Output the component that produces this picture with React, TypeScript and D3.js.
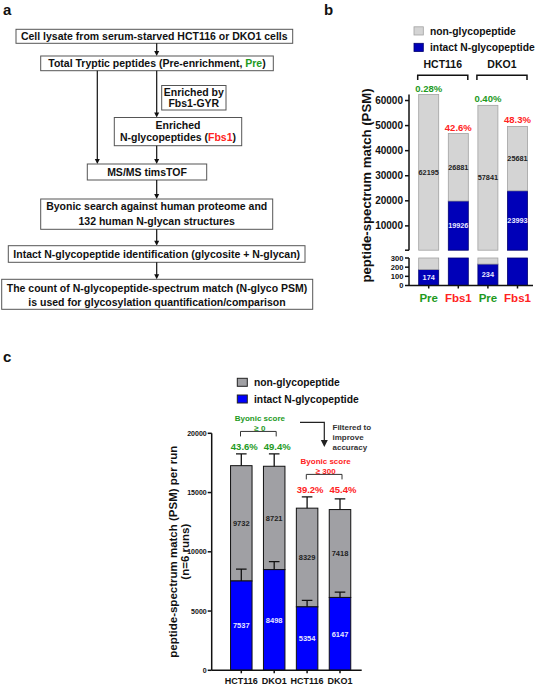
import React from 'react';
import * as d3 from 'd3';

const FONT = '"Liberation Sans", Arial, Helvetica, sans-serif';
const GREEN = '#1e9a1e';
const RED = '#ff2222';

// ---------- Panel b data ----------
const bCategories = ['Pre', 'Fbs1', 'Pre', 'Fbs1'];
const bCategoryColors = [GREEN, RED, GREEN, RED];
const bGroups = ['HCT116', 'DKO1'];
const bIntact = [174, 19926, 234, 23993];
const bNon = [62195, 26881, 57841, 25681];
const bPctLabels = ['0.28%', '42.6%', '0.40%', '48.3%'];
const bUpperTicks = [10000, 20000, 30000, 40000, 50000, 60000];
const bLowerTicks = [0, 100, 200, 300];
const bBreak = 300;

// ---------- Panel c data ----------
const cCategories = ['HCT116', 'DKO1', 'HCT116', 'DKO1'];
const cIntact = [7537, 8498, 5354, 6147];
const cNon = [9732, 8721, 8329, 7418];
const cIntactErr = [1000, 670, 550, 450];
const cTotalErr = [990, 1040, 950, 900];
const cPctLabels = ['43.6%', '49.4%', '39.2%', '45.4%'];
const cTicks = [0, 5000, 10000, 15000, 20000];
const cScoreLabels = ['Byonic score', 'Byonic score'];
const cScoreThresholds = ['≥ 0', '≥ 300'];
const cScoreColors = [GREEN, RED];
const cFilterNote = ['Filtered to', 'improve', 'accuracy'];

const legendLabels = ['non-glycopeptide', 'intact N-glycopeptide'];

// ---------- Panel a text ----------
const flowLysate = 'Cell lysate from serum-starved HCT116 or DKO1 cells';
const flowTotal = ['Total Tryptic peptides (Pre-enrichment, ', 'Pre', ')'];
const flowEnrichedBy = ['Enriched by', 'Fbs1-GYR'];
const flowEnriched = ['Enriched', 'N-glycopeptides (', 'Fbs1', ')'];
const flowMS = 'MS/MS timsTOF';
const flowByonic = ['Byonic search against human proteome and', '132 human N-glycan structures'];
const flowIntact = 'Intact N-glycopeptide identification (glycosite + N-glycan)';
const flowCount = [
  'The count of N-glycopeptide-spectrum match (N-glyco PSM)',
  'is used for glycosylation quantification/comparison',
];

const BOX_STROKE = '#555';

function Box({ x, y, w, h }: { x: number; y: number; w: number; h: number }) {
  return <rect x={x} y={y} width={w} height={h} fill="#fff" stroke={BOX_STROKE} strokeWidth={1} />;
}

function Arrow({ x, y1, y2 }: { x: number; y1: number; y2: number }) {
  return (
    <g>
      <line x1={x} x2={x} y1={y1} y2={y2 - 4} stroke="#111" strokeWidth={1.2} />
      <path d={`M${x - 2.5},${y2 - 5}L${x + 2.5},${y2 - 5}L${x},${y2}Z`} fill="#111" />
    </g>
  );
}

function PanelA() {
  const fs = 10.5;
  const ax = 156.7;
  return (
    <g fontSize={fs} fill="#111">
      <Box x={16} y={29.3} w={276.7} h={14} />
      <text x={154.3} y={36.3} dy="0.36em" textAnchor="middle">{flowLysate}</text>
      <Arrow x={ax} y1={43.3} y2={56} />

      <Box x={40.7} y={56} w={232.6} h={14.7} />
      <text x={157} y={63.3} dy="0.36em" textAnchor="middle">
        {flowTotal[0]}
        <tspan fill={GREEN}>{flowTotal[1]}</tspan>
        {flowTotal[2]}
      </text>

      <line x1={97.3} x2={97.3} y1={70.7} y2={160} stroke="#111" strokeWidth={1.2} />
      <path d={`M${97.3 - 2.5},159L${97.3 + 2.5},159L97.3,164Z`} fill="#111" />
      <Arrow x={ax} y1={70.7} y2={117.5} />

      <Box x={161.7} y={85.5} w={64.3} h={24.5} />
      <text x={193.8} y={91.8} dy="0.36em" textAnchor="middle">{flowEnrichedBy[0]}</text>
      <text x={193.8} y={103.3} dy="0.36em" textAnchor="middle">{flowEnrichedBy[1]}</text>

      <Box x={114.3} y={117.5} w={127.4} h={28.2} />
      <text x={178} y={125.5} dy="0.36em" textAnchor="middle">{flowEnriched[0]}</text>
      <text x={178} y={137} dy="0.36em" textAnchor="middle">
        {flowEnriched[1]}
        <tspan fill={RED}>{flowEnriched[2]}</tspan>
        {flowEnriched[3]}
      </text>
      <Arrow x={ax} y1={145.7} y2={164} />

      <Box x={87.3} y={164} w={119.4} h={16} />
      <text x={147} y={172} dy="0.36em" textAnchor="middle">{flowMS}</text>
      <Arrow x={ax} y1={180} y2={199} />

      <Box x={40.7} y={199} w={232} h={30.3} />
      <text x={156.7} y={206.5} dy="0.36em" textAnchor="middle">{flowByonic[0]}</text>
      <text x={156.7} y={221.3} dy="0.36em" textAnchor="middle">{flowByonic[1]}</text>
      <Arrow x={ax} y1={229.3} y2={245.7} />

      <Box x={8.3} y={245.7} w={296.7} h={16.6} />
      <text x={156.7} y={254} dy="0.36em" textAnchor="middle">{flowIntact}</text>
      <Arrow x={ax} y1={262.3} y2={279.3} />

      <Box x={1.7} y={279.3} w={311} h={30} />
      <text x={157} y={288.3} dy="0.36em" textAnchor="middle">{flowCount[0]}</text>
      <text x={157} y={302.3} dy="0.36em" textAnchor="middle">{flowCount[1]}</text>
    </g>
  );
}

function PanelB() {
  const n = bCategories.length;
  const totals = bIntact.map((v, i) => v + bNon[i]);
  const maxTotal = d3.max(totals) as number;
  const x = d3.scalePoint<number>().domain(d3.range(n)).range([428.7, 517.5]);
  const yUp = d3.scaleLinear().domain([bBreak, 62400]).range([250.2, 94.5]);
  const yLo = d3.scaleLinear().domain([0, bBreak]).range([285.5, 258]);
  const bw = 20;
  const axisX = 409;
  const grey = '#d4d4d4';
  const greyStroke = '#a2a2a2';
  const blue = '#0000b8';
  const blueStroke = '#00006e';

  const segs: JSX.Element[] = [];
  const labels: JSX.Element[] = [];
  d3.range(n).forEach((i) => {
    const cx = x(i) as number;
    const parts = [
      { lo: 0, hi: bIntact[i], fill: blue, stroke: blueStroke, val: bIntact[i], tc: '#e8e8ff' },
      { lo: bIntact[i], hi: totals[i], fill: grey, stroke: greyStroke, val: bNon[i], tc: '#222' },
    ];
    parts.forEach((p, k) => {
      const l0 = Math.min(p.lo, bBreak);
      const l1 = Math.min(p.hi, bBreak);
      if (l1 > l0) {
        segs.push(
          <rect key={`l${i}${k}`} x={cx - bw / 2} width={bw} y={yLo(l1)} height={yLo(l0) - yLo(l1)}
            fill={p.fill} stroke={p.stroke} strokeWidth={0.8} />
        );
      }
      const u0 = Math.max(p.lo, bBreak);
      const u1 = Math.max(p.hi, bBreak);
      if (u1 > u0) {
        segs.push(
          <rect key={`u${i}${k}`} x={cx - bw / 2} width={bw} y={yUp(u1)} height={yUp(u0) - yUp(u1)}
            fill={p.fill} stroke={p.stroke} strokeWidth={0.8} />
        );
      }
      let cy: number;
      if (p.hi <= bBreak) cy = (yLo(p.lo) + yLo(p.hi)) / 2;
      else cy = (yUp(Math.max(p.lo, bBreak)) + yUp(p.hi)) / 2;
      labels.push(
        <text key={`t${i}${k}`} x={cx} y={cy} dy="0.36em" textAnchor="middle" fontSize={7.3} fill={p.tc}>
          {p.val}
        </text>
      );
    });
    labels.push(
      <text key={`p${i}`} x={cx} y={yUp(totals[i]) - 3} textAnchor="middle" fontSize={9.5}
        fill={bCategoryColors[i]}>{bPctLabels[i]}</text>
    );
  });

  return (
    <g fill="#111">
      {/* legend */}
      <rect x={414} y={26.8} width={9.3} height={8.2} fill={grey} stroke={greyStroke} strokeWidth={0.8} />
      <text x={430} y={31} dy="0.36em" fontSize={10.3}>{legendLabels[0]}</text>
      <rect x={414} y={43.3} width={9.3} height={8.2} fill={blue} stroke={blueStroke} strokeWidth={0.8} />
      <text x={430} y={47.3} dy="0.36em" fontSize={10.3}>{legendLabels[1]}</text>

      {/* group brackets */}
      {bGroups.map((g, gi) => {
        const x0 = (x(gi * 2) as number) - 11;
        const x1 = (x(gi * 2 + 1) as number) + 9.5;
        return (
          <g key={g}>
            <text x={(x0 + x1) / 2} y={64.3} dy="0.36em" textAnchor="middle" fontSize={10.5}>{g}</text>
            <path d={`M${x0},80V75.3H${x1}V80`} fill="none" stroke="#111" strokeWidth={1.5} />
          </g>
        );
      })}

      {segs}
      {labels}

      {/* y axis upper */}
      <line x1={axisX} x2={axisX} y1={yUp(maxTotal)} y2={yUp(bBreak)} stroke="#111" strokeWidth={1.5} />
      {[bBreak, ...bUpperTicks].map((t) => (
        <g key={`ut${t}`}>
          <line x1={axisX - 4} x2={axisX} y1={yUp(t)} y2={yUp(t)} stroke="#111" strokeWidth={1.5} />
          {t !== bBreak && (
            <text x={axisX - 6} y={yUp(t)} dy="0.36em" textAnchor="end" fontSize={10}>{t}</text>
          )}
        </g>
      ))}
      {/* y axis lower */}
      <line x1={axisX} x2={axisX} y1={yLo(bBreak)} y2={yLo(0)} stroke="#111" strokeWidth={1.5} />
      {bLowerTicks.map((t) => (
        <g key={`lt${t}`}>
          <line x1={axisX - 4} x2={axisX} y1={yLo(t)} y2={yLo(t)} stroke="#111" strokeWidth={1.5} />
          <text x={axisX - 5.5} y={yLo(t)} dy="0.36em" textAnchor="end" fontSize={7.6}>{t}</text>
        </g>
      ))}
      {/* x axis */}
      <line x1={axisX} x2={533} y1={yLo(0)} y2={yLo(0)} stroke="#111" strokeWidth={1.5} />
      {d3.range(n).map((i) => (
        <g key={`xc${i}`}>
          <line x1={x(i)} x2={x(i)} y1={yLo(0)} y2={yLo(0) + 3} stroke="#111" strokeWidth={1.5} />
          <text x={x(i)} y={298.3} dy="0.36em" textAnchor="middle" fontSize={11.5}
            fill={bCategoryColors[i]}>{bCategories[i]}</text>
        </g>
      ))}
      <text transform="translate(366.3,185.5) rotate(-90)" dy="0.36em" textAnchor="middle" fontSize={13.2}>
        peptide-spectrum match (PSM)
      </text>
    </g>
  );
}

function PanelC() {
  const n = cCategories.length;
  const totals = cIntact.map((v, i) => v + cNon[i]);
  const x = d3.scalePoint<number>().domain(d3.range(n)).range([241.3, 340]);
  const y = d3.scaleLinear().domain([0, 20000]).range([670.3, 433.3]);
  const bw = 21.5;
  const axisX = 211.7;
  const grey = '#a0a0a4';
  const blue = '#0000ff';
  const cap = 5.3;

  return (
    <g fill="#111">
      {/* legend */}
      <rect x={237.3} y={378.3} width={10} height={8} fill={grey} stroke="#222" strokeWidth={1} />
      <text x={254} y={382.5} dy="0.36em" fontSize={10.3}>{legendLabels[0]}</text>
      <rect x={237.3} y={395} width={10} height={8} fill={blue} stroke="#222" strokeWidth={1} />
      <text x={254} y={399} dy="0.36em" fontSize={10.3}>{legendLabels[1]}</text>

      {d3.range(n).map((i) => {
        const cx = x(i) as number;
        return (
          <g key={`bar${i}`}>
            <rect x={cx - bw / 2} width={bw} y={y(totals[i])} height={y(cIntact[i]) - y(totals[i])}
              fill={grey} stroke="#111" strokeWidth={1} />
            <rect x={cx - bw / 2} width={bw} y={y(cIntact[i])} height={y(0) - y(cIntact[i])}
              fill={blue} stroke="#111" strokeWidth={1} />
            <path d={`M${cx},${y(cIntact[i])}V${y(cIntact[i] + cIntactErr[i])}M${cx - cap},${y(cIntact[i] + cIntactErr[i])}H${cx + cap}`}
              stroke="#111" strokeWidth={1.3} fill="none" />
            <path d={`M${cx},${y(totals[i])}V${y(totals[i] + cTotalErr[i])}M${cx - cap},${y(totals[i] + cTotalErr[i])}H${cx + cap}`}
              stroke="#111" strokeWidth={1.3} fill="none" />
            <text x={cx} y={(y(cIntact[i]) + y(totals[i])) / 2} dy="0.36em" textAnchor="middle" fontSize={7.5} fill="#222">
              {cNon[i]}
            </text>
            <text x={cx} y={(y(0) + y(cIntact[i])) / 2} dy="0.36em" textAnchor="middle" fontSize={7.5} fill="#e6e6ff">
              {cIntact[i]}
            </text>
          </g>
        );
      })}

      {/* group annotations */}
      {[0, 1].map((g) => {
        const a = g * 2;
        const b = g * 2 + 1;
        const top = y(Math.max(totals[a] + cTotalErr[a], totals[b] + cTotalErr[b]));
        const x0 = (x(a) as number) - 0.8;
        const x1 = (x(b) as number) + 2;
        const col = cScoreColors[g];
        return (
          <g key={`grp${g}`} fill={col}>
            <text x={(x0 + x1) / 2 + 1.5} y={top - 36} dy="0.36em" textAnchor="middle" fontSize={8}>{cScoreLabels[g]}</text>
            <text x={(x0 + x1) / 2 + 1.5} y={top - 26} dy="0.36em" textAnchor="middle" fontSize={8}>{cScoreThresholds[g]}</text>
            <path d={`M${x0},${top - 17.5}V${top - 22.5}H${x1}V${top - 17.5}`} fill="none" stroke="#333" strokeWidth={1} />
            <text x={(x(a) as number) + 3} y={top - 7.5} dy="0.36em" textAnchor="middle" fontSize={9.5}>{cPctLabels[a]}</text>
            <text x={(x(b) as number) + 3} y={top - 7.5} dy="0.36em" textAnchor="middle" fontSize={9.5}>{cPctLabels[b]}</text>
          </g>
        );
      })}

      {/* filter arrow */}
      <path d="M300,422.3H324.3V441" fill="none" stroke="#222" strokeWidth={1.2} />
      <path d="M320.8,440L327.8,440L324.3,447Z" fill="#222" />
      {cFilterNote.map((t, k) => (
        <text key={t} x={332.5} y={426.7 + k * 10} dy="0.36em" fontSize={8} fill="#333">{t}</text>
      ))}

      {/* axes */}
      <line x1={axisX} x2={axisX} y1={y(20000)} y2={y(0)} stroke="#111" strokeWidth={1.5} />
      {cTicks.map((t) => (
        <g key={`ct${t}`}>
          <line x1={axisX - 4} x2={axisX} y1={y(t)} y2={y(t)} stroke="#111" strokeWidth={1.5} />
          <text x={axisX - 5} y={y(t)} dy="0.36em" textAnchor="end" fontSize={7}>{t}</text>
        </g>
      ))}
      <line x1={axisX} x2={361.7} y1={y(0)} y2={y(0)} stroke="#111" strokeWidth={1.5} />
      {d3.range(n).map((i) => (
        <g key={`cx${i}`}>
          <line x1={x(i)} x2={x(i)} y1={y(0)} y2={y(0) + 3} stroke="#111" strokeWidth={1.5} />
          <text x={x(i)} y={684.3} textAnchor="middle" fontSize={9}>{cCategories[i]}</text>
        </g>
      ))}
      <text transform="translate(172.8,551.7) rotate(-90)" dy="0.36em" textAnchor="middle" fontSize={11.5}>
        peptide-spectrum match (PSM) per run
      </text>
      <text transform="translate(185,551.7) rotate(-90)" dy="0.36em" textAnchor="middle" fontSize={11.5}>
        (n=6 runs)
      </text>
    </g>
  );
}

export default function App() {
  return (
    <svg width={538} height={685} viewBox="0 0 538 685"
      style={{ position: 'absolute', left: 0, top: 0, background: '#fff' }}
      fontFamily={FONT} fontWeight="bold">
      <rect x={0} y={0} width={538} height={685} fill="#fff" />
      <text x={3} y={15} fontSize={15} fill="#111">a</text>
      <text x={324} y={15} fontSize={15} fill="#111">b</text>
      <text x={3} y={362} fontSize={15} fill="#111">c</text>
      <PanelA />
      <PanelB />
      <PanelC />
    </svg>
  );
}
